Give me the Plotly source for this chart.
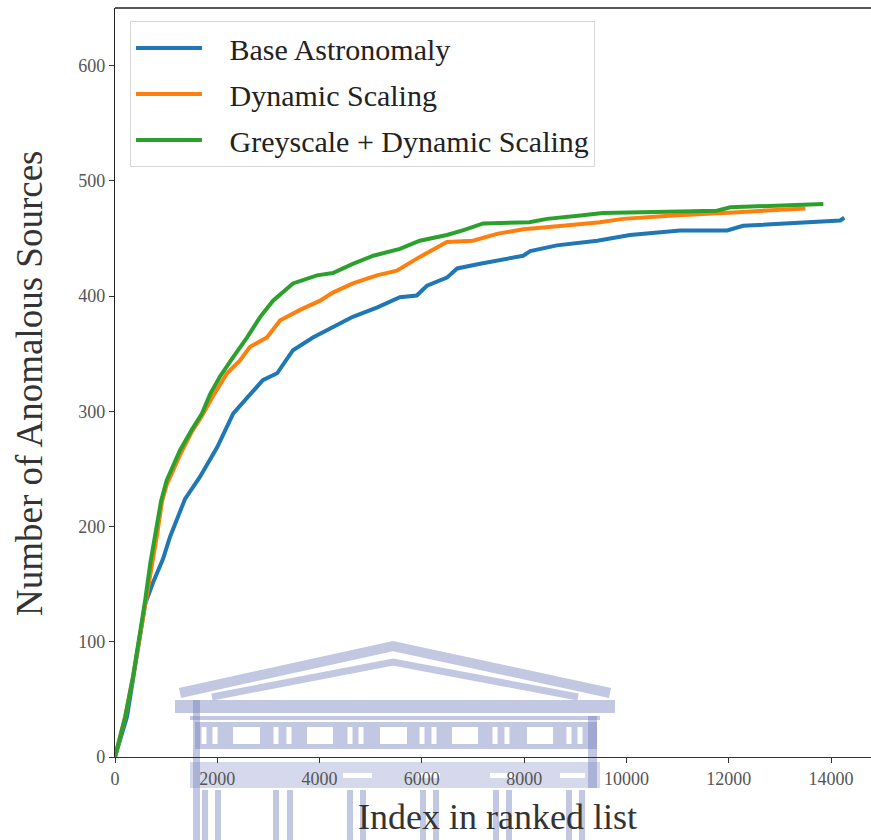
import plotly.graph_objects as go

# ---------------- data ----------------
base_x = [0, 235, 390, 490, 590, 740, 940, 1075, 1210, 1370, 1660, 2000, 2310, 2640, 2890, 3170,
          3480, 3870, 4260, 4650, 5120, 5570, 5900, 6100, 6490, 6690, 7140, 7780, 7980, 8120,
          8640, 9430, 10070, 11050, 11970, 12280, 13730, 14180, 14260]
base_y = [0, 35, 78, 107, 133, 151, 172, 191, 207, 224, 243, 269, 298, 315, 327, 333,
          353, 364, 373, 382, 390, 399, 400.5, 409, 416, 424, 428, 433, 435, 439,
          444, 448, 453, 457, 457, 461, 464, 465.6, 468]

dyn_x = [0, 200, 350, 490, 590, 700, 820, 920, 1010, 1270, 1500, 1700, 1900, 2190, 2440, 2640,
         2970, 3230, 3620, 4010, 4260, 4650, 5120, 5510, 5960, 6490, 7000, 7470, 7980, 8760,
         9480, 9930, 10910, 12090, 13500]
dyn_y = [0, 35, 69, 105, 134, 163, 192, 222, 236, 262, 282, 296, 312, 333, 344, 356,
         364, 379, 388, 396, 403, 411, 418, 422, 434, 447, 448, 454, 458, 461,
         464, 467, 470, 472.6, 476]

grey_x = [0, 200, 350, 490, 590, 690, 790, 900, 1010, 1270, 1500, 1700, 1860, 2050, 2310, 2580,
          2840, 3090, 3480, 3950, 4260, 4650, 5050, 5570, 5960, 6490, 6800, 7200, 8100, 8450,
          9100, 9540, 11050, 11770, 12030, 13850]
grey_y = [0, 35, 69, 107, 136, 168, 196, 222, 240, 266, 284, 298, 315, 330, 347, 364,
          382, 396, 411, 418, 420, 428, 435, 441, 448, 453, 457, 463, 464, 467,
          470, 472, 473.5, 474, 477, 480]

series_names = ["Base Astronomaly", "Dynamic Scaling", "Greyscale + Dynamic Scaling"]
series_colors = ["#1f77b4", "#ff7f0e", "#2ca02c"]

x_ticks = [0, 2000, 4000, 6000, 8000, 10000, 12000, 14000]
y_ticks = [0, 100, 200, 300, 400, 500, 600]

x_title = "Index in ranked list"
y_title = "Number of Anomalous Sources"

# ---------------- layout geometry ----------------
W, H = 871, 840
L, T, R, B = 115, 8, 0, 83
PW, PH = W - L - R, H - T - B
FONT = "Liberation Serif"
GAP = "\u00a0\u00a0\u00a0"


def px(x):
    return (x - L) / PW


def py(y):
    return (T + PH - y) / PH


fig = go.Figure()
for xs, ys, name, col in zip([base_x, dyn_x, grey_x], [base_y, dyn_y, grey_y],
                             series_names, series_colors):
    fig.add_trace(go.Scatter(x=xs, y=ys, mode="lines", name=GAP + name,
                             line=dict(color=col, width=4), legendgroup=name))

# ---------------- watermark (faint building logo) ----------------
WM = "rgba(120,130,190,0.45)"
WM2 = "rgba(120,130,190,0.30)"
shapes = []


def rect(x0, y0, x1, y1, color):
    shapes.append(dict(type="rect", xref="paper", yref="paper", x0=px(x0), x1=px(x1),
                       y0=py(y1), y1=py(y0), fillcolor=color, line=dict(width=0),
                       layer="below"))


def poly(points, width, color):
    d = "M" + " L".join(f"{px(a):.5f},{py(b):.5f}" for a, b in points)
    shapes.append(dict(type="path", xref="paper", yref="paper", path=d,
                       line=dict(color=color, width=width), layer="below"))


poly([(180, 693), (393, 646), (610, 693)], 10, WM)
poly([(212, 697), (393, 662), (578, 697)], 7, WM)
rect(175, 700, 615, 713, WM)
rect(190, 716, 600, 720, WM)
rect(195, 722, 597, 749, WM)
for a, b in [(233, 260), (307, 333), (380, 407), (452, 478), (527, 553)]:
    rect(a, 727, b, 744, "white")
for s in [204, 215, 276, 289, 350, 361, 422, 434, 495, 507, 569, 580]:
    rect(s - 2.5, 727, s + 2.5, 744, "white")
rect(190, 762, 600, 788, WM2)
for a, b in [(343, 372), (418, 440), (490, 515), (560, 585)]:
    rect(a, 773, b, 778, "white")
rect(193, 700, 200, 840, WM)
rect(588, 716, 597, 788, WM)
for c in [205, 218, 276, 290, 350, 363, 423, 436, 496, 509, 569, 582]:
    rect(c - 3, 790, c + 3, 840, WM)

# top spine
shapes.append(dict(type="line", xref="paper", yref="paper", x0=0, x1=1, y0=1, y1=1,
                   line=dict(color="#222222", width=1.3), layer="above"))

fig.update_layout(
    width=W, height=H,
    margin=dict(l=L, r=R, t=T, b=B, pad=0),
    paper_bgcolor="white", plot_bgcolor="white",
    shapes=shapes,
    showlegend=True,
    legend=dict(x=px(130), y=py(21), xanchor="left", yanchor="top",
                bgcolor="rgba(255,255,255,0.8)", bordercolor="#d6d6d6", borderwidth=1,
                font=dict(family=FONT, size=30, color="#222222"),
                itemwidth=66, tracegroupgap=4, traceorder="grouped"),
    xaxis=dict(range=[0, (W - R - L) / ((831 - 115) / 14000)], tickvals=x_ticks,
               ticktext=[str(v) for v in x_ticks],
               showgrid=False, zeroline=False, showline=True, linecolor="#333333",
               linewidth=1.2, ticks="outside", ticklen=5, tickcolor="#333333",
               tickfont=dict(family=FONT, size=18, color="#555555")),
    yaxis=dict(range=[0, 650], tickvals=y_ticks, ticktext=[str(v) for v in y_ticks],
               showgrid=False, zeroline=False, showline=True, linecolor="#222222",
               linewidth=1.3, ticks="outside", ticklen=5, tickcolor="#333333",
               tickfont=dict(family=FONT, size=18, color="#555555")),
    annotations=[
        dict(text=x_title, xref="paper", yref="paper", x=px(497), y=py(817),
             xanchor="center", yanchor="middle", showarrow=False,
             font=dict(family=FONT, size=36, color="#333333")),
        dict(text=y_title, xref="paper", yref="paper", x=px(29), y=py(383),
             xanchor="center", yanchor="middle", showarrow=False, textangle=-90,
             font=dict(family=FONT, size=37, color="#333333")),
    ],
)

fig.write_html("out.html")
